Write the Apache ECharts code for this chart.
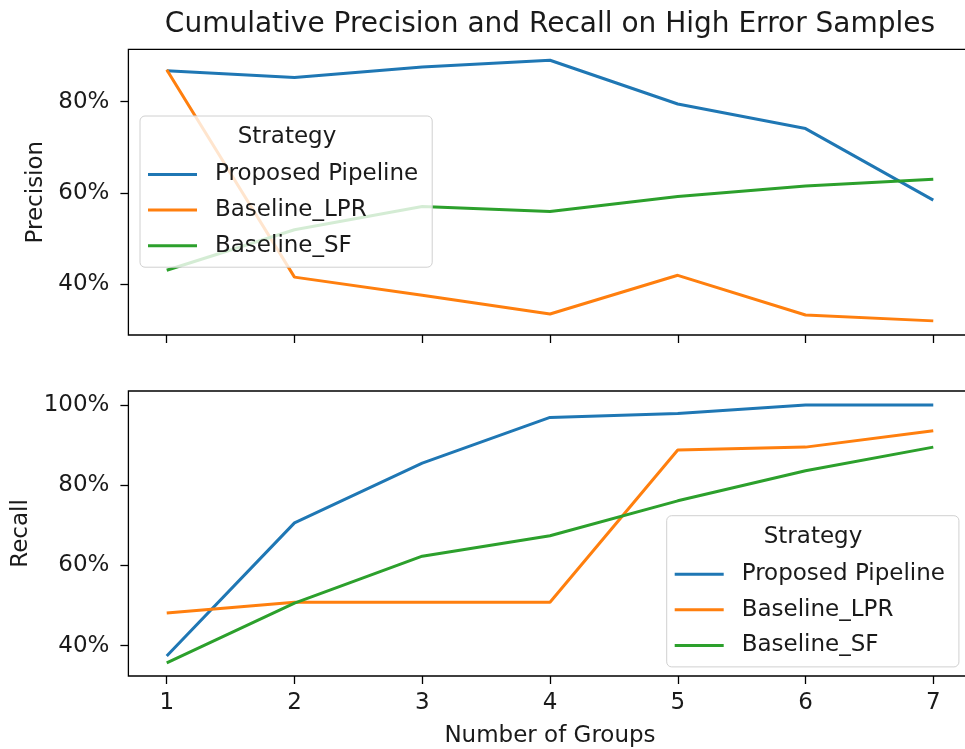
<!DOCTYPE html>
<html>
<head>
<meta charset="utf-8">
<script src="https://cdn.jsdelivr.net/npm/echarts@6/dist/echarts.min.js"></script>
<style>
  html, body { margin: 0; padding: 0; background: #fff; overflow: hidden; }
  #chart { width: 972px; height: 749px; }
</style>
</head>
<body>
<div id="chart"></div>
<script>
// Number of groups on the shared x axis
const groups = [1, 2, 3, 4, 5, 6, 7];
const strategies = ['Proposed Pipeline', 'Baseline_LPR', 'Baseline_SF'];

// Cumulative precision (%) per strategy
const precisionProposed = [86.8, 85.3, 87.6, 89.1, 79.5, 74.1, 58.4];
const precisionLPR      = [87.0, 41.5, 37.5, 33.4, 41.9, 33.2, 31.9];
const precisionSF       = [43.0, 51.9, 57.0, 55.9, 59.2, 61.5, 63.0];

// Cumulative recall (%) per strategy
const recallProposed = [37.4, 70.6, 85.5, 96.9, 97.9, 100.0, 100.0];
const recallLPR      = [48.1, 50.8, 50.8, 50.8, 88.8, 89.5, 93.6];
const recallSF       = [35.7, 50.6, 62.3, 67.4, 76.1, 83.6, 89.5];

// Tick labels
const xTicks = [1, 2, 3, 4, 5, 6, 7];
const precisionTicks = [40, 60, 80];
const recallTicks = [40, 60, 80, 100];

const colors = ['#1f77b4', '#ff7f0e', '#2ca02c'];
const FONT = 'DejaVu Sans';
const FS = 23;

const pairs = (ys) => groups.map((g, i) => [g, ys[i]]);

function lineSeries(name, ys, idx, color) {
  return {
    name, type: 'line', data: pairs(ys),
    xAxisIndex: idx, yAxisIndex: idx,
    showSymbol: false, symbol: 'none',
    lineStyle: { color, width: 3 }, itemStyle: { color },
    emphasis: { disabled: true }, animation: false
  };
}

function legendBox(left, top) {
  return {
    orient: 'vertical', left, top,
    data: strategies,
    icon: 'rect', itemWidth: 49, itemHeight: 3, itemGap: 12.6,
    padding: [47, 14, 10, 8],
    backgroundColor: 'rgba(255,255,255,0.8)',
    borderColor: '#d0d0d0', borderWidth: 1, borderRadius: 5,
    textStyle: { fontFamily: FONT, fontSize: FS, color: '#1a1a1a', padding: [0, 0, 0, 13] },
    selectedMode: false, z: 10
  };
}

function legendTitle(x, y) {
  return {
    type: 'text', x, y, z: 20,
    style: { text: 'Strategy', font: FS + 'px "' + FONT + '"', fill: '#1a1a1a', align: 'center', verticalAlign: 'middle' }
  };
}

const axisLabelStyle = { fontFamily: FONT, fontSize: FS, color: '#1a1a1a' };
const tickStyle = { color: '#000', width: 1.3 };

const chart = echarts.init(document.getElementById('chart'), null, { renderer: 'canvas' });
chart.setOption({
  backgroundColor: '#fff',
  animation: false,
  title: {
    text: 'Cumulative Precision and Recall on High Error Samples',
    left: 545, top: 6, textAlign: 'center',
    textStyle: { fontFamily: FONT, fontSize: 28, fontWeight: 'normal', color: '#1a1a1a' }
  },
  grid: [
    { left: 128.4, right: 0.4, top: 49.3, bottom: 414, show: true, borderColor: '#000', borderWidth: 1.3 },
    { left: 128.4, right: 0.4, top: 391, bottom: 71.7, show: true, borderColor: '#000', borderWidth: 1.3 }
  ],
  xAxis: [
    {
      gridIndex: 0, type: 'value', min: 0.7, max: 7.3,
      axisLine: { show: false }, splitLine: { show: false },
      axisTick: { show: true, length: 8, lineStyle: tickStyle, customValues: xTicks },
      axisLabel: { show: false, customValues: xTicks }
    },
    {
      gridIndex: 1, type: 'value', min: 0.7, max: 7.3,
      axisLine: { show: false }, splitLine: { show: false },
      axisTick: { show: true, length: 8, lineStyle: tickStyle, customValues: xTicks },
      axisLabel: Object.assign({ margin: 16, customValues: xTicks }, axisLabelStyle),
      name: 'Number of Groups', nameLocation: 'middle', nameGap: 49,
      nameTextStyle: axisLabelStyle
    }
  ],
  yAxis: [
    {
      gridIndex: 0, type: 'value', min: 28.8, max: 91.5,
      axisLine: { show: false }, splitLine: { show: false },
      axisTick: { show: true, length: 8, lineStyle: tickStyle, customValues: precisionTicks },
      axisLabel: Object.assign({ margin: 19, customValues: precisionTicks, formatter: '{value}%' }, axisLabelStyle),
      name: 'Precision', nameLocation: 'middle', nameGap: 79,
      nameTextStyle: axisLabelStyle
    },
    {
      gridIndex: 1, type: 'value', min: 32.4, max: 103.5,
      axisLine: { show: false }, splitLine: { show: false },
      axisTick: { show: true, length: 8, lineStyle: tickStyle, customValues: recallTicks },
      axisLabel: Object.assign({ margin: 19, customValues: recallTicks, formatter: '{value}%' }, axisLabelStyle),
      name: 'Recall', nameLocation: 'middle', nameGap: 93,
      nameTextStyle: axisLabelStyle
    }
  ],
  legend: [legendBox(140, 116), legendBox(666.7, 515.7)],
  graphic: [legendTitle(287, 136.7), legendTitle(813, 536.7)],
  series: [
    lineSeries('Proposed Pipeline', precisionProposed, 0, colors[0]),
    lineSeries('Baseline_LPR', precisionLPR, 0, colors[1]),
    lineSeries('Baseline_SF', precisionSF, 0, colors[2]),
    lineSeries('Proposed Pipeline', recallProposed, 1, colors[0]),
    lineSeries('Baseline_LPR', recallLPR, 1, colors[1]),
    lineSeries('Baseline_SF', recallSF, 1, colors[2])
  ]
});
</script>
</body>
</html>
